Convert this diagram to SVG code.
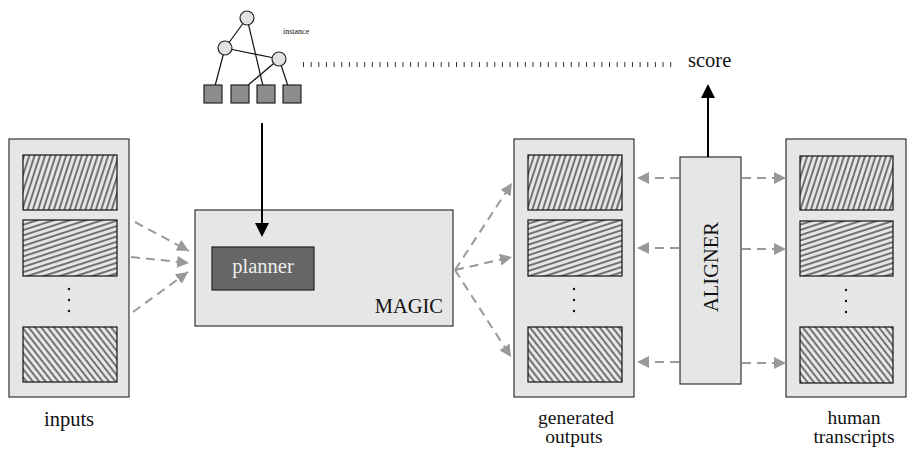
<svg xmlns="http://www.w3.org/2000/svg" width="907" height="452" viewBox="0 0 907 452">
<style>
text{font-family:"Liberation Serif","Times New Roman",serif;fill:#111;}
.lbl{font-size:20.5px;}
.lbl2{font-size:19.5px;}
.panel{fill:#e6e6e6;stroke:#333;stroke-width:1.2;}
.hbox{stroke:#111;stroke-width:1.2;}
.dash{stroke:#999;stroke-width:2;stroke-dasharray:9 6;fill:none;marker-end:url(#ga);}
.tl{stroke:#111;stroke-width:1.2;}
.node{fill:#e2e2e2;stroke:#222;stroke-width:1.2;}
.leaf{fill:#8c8c8c;stroke:#222;stroke-width:1.2;}
.dot{fill:#111;}
</style>
<defs>
<marker id="ga" markerUnits="userSpaceOnUse" markerWidth="12" markerHeight="12" refX="12" refY="6" orient="auto">
<path d="M0,0 L12,6 L0,12 z" fill="#999"/>
</marker>
<pattern id="h1" patternUnits="userSpaceOnUse" width="5" height="10" patternTransform="rotate(18)">
<line x1="1" y1="0" x2="1" y2="10" stroke="#000" stroke-width="1"/>
</pattern>
<pattern id="h2" patternUnits="userSpaceOnUse" width="10" height="5" patternTransform="rotate(-18)">
<line x1="0" y1="1" x2="10" y2="1" stroke="#000" stroke-width="1"/>
</pattern>
<pattern id="h3" patternUnits="userSpaceOnUse" width="5" height="10" patternTransform="rotate(-38)">
<line x1="1" y1="0" x2="1" y2="10" stroke="#000" stroke-width="1"/>
</pattern>
</defs>

<g id="tree">
<line class="tl" x1="247" y1="18" x2="225" y2="48"/>
<line class="tl" x1="247" y1="18" x2="263" y2="86"/>
<line class="tl" x1="225" y1="48" x2="279" y2="59"/>
<line class="tl" x1="225" y1="48" x2="215" y2="86"/>
<line class="tl" x1="279" y1="59" x2="247" y2="86"/>
<line class="tl" x1="279" y1="59" x2="288" y2="86"/>
<circle class="node" cx="247" cy="18" r="7"/>
<circle class="node" cx="225" cy="48" r="7"/>
<circle class="node" cx="279" cy="59" r="7"/>
<rect class="leaf" x="204" y="85" width="18" height="18"/>
<rect class="leaf" x="231" y="85" width="18" height="18"/>
<rect class="leaf" x="257" y="85" width="18" height="18"/>
<rect class="leaf" x="283" y="85" width="18" height="18"/>
<text x="283" y="34" font-size="8">instance</text>
</g>

<g id="score">
<line x1="303" y1="64.5" x2="672" y2="64.5" stroke="#333" stroke-width="5" stroke-dasharray="1 6.65"/>
<text class="lbl" x="688" y="67">score</text>
</g>

<g id="inputs">
<rect class="panel" x="9" y="139" width="120" height="258"/>
<rect class="hbox" x="23" y="155" width="94" height="55" fill="url(#h1)"/>
<rect class="hbox" x="23" y="220" width="94" height="56" fill="url(#h2)"/>
<circle class="dot" cx="69" cy="289" r="1.2"/>
<circle class="dot" cx="69" cy="300" r="1.2"/>
<circle class="dot" cx="69" cy="311" r="1.2"/>
<rect class="hbox" x="23" y="327" width="94" height="55" fill="url(#h3)"/>
<text class="lbl" x="69" y="426" text-anchor="middle">inputs</text>
</g>

<g id="magic">
<rect class="panel" x="195" y="210" width="258" height="116"/>
<rect x="212" y="247" width="102" height="43" fill="#666" stroke="#222" stroke-width="1.2"/>
<text class="lbl" x="263" y="273" text-anchor="middle" style="fill:#eee">planner</text>
<text class="lbl" x="443" y="313" text-anchor="end">MAGIC</text>
</g>

<g id="generated">
<rect class="panel" x="514" y="139" width="120" height="258"/>
<rect class="hbox" x="528" y="155" width="94" height="55" fill="url(#h1)"/>
<rect class="hbox" x="528" y="220" width="94" height="56" fill="url(#h2)"/>
<circle class="dot" cx="574" cy="289" r="1.2"/>
<circle class="dot" cx="574" cy="300" r="1.2"/>
<circle class="dot" cx="574" cy="311" r="1.2"/>
<rect class="hbox" x="528" y="327" width="94" height="55" fill="url(#h3)"/>
<text class="lbl2" x="576" y="424" text-anchor="middle">generated</text>
<text class="lbl2" x="574" y="443" text-anchor="middle">outputs</text>
</g>

<g id="aligner">
<rect class="panel" x="680" y="157" width="61" height="227"/>
<text class="lbl" transform="translate(718,267) rotate(-90)" text-anchor="middle">ALIGNER</text>
</g>

<g id="human">
<rect class="panel" x="786" y="139" width="120" height="258"/>
<rect class="hbox" x="800" y="156" width="93" height="54" fill="url(#h1)"/>
<rect class="hbox" x="800" y="221" width="93" height="55" fill="url(#h2)"/>
<circle class="dot" cx="846" cy="290" r="1.2"/>
<circle class="dot" cx="846" cy="301" r="1.2"/>
<circle class="dot" cx="846" cy="312" r="1.2"/>
<rect class="hbox" x="800" y="327" width="93" height="56" fill="url(#h3)"/>
<text class="lbl2" x="854" y="424" text-anchor="middle">human</text>
<text class="lbl2" x="854" y="443" text-anchor="middle">transcripts</text>
</g>

<g id="connectors">
<line x1="262" y1="123" x2="262" y2="224" stroke="#000" stroke-width="2"/>
<path d="M255,223 L269,223 L262,237 z" fill="#000"/>
<line x1="708" y1="157" x2="708" y2="97" stroke="#000" stroke-width="2"/>
<path d="M701,98 L715,98 L708,84 z" fill="#000"/>
<path class="dash" d="M135,222 L189,251"/>
<path class="dash" d="M131,257 L189,263"/>
<path class="dash" d="M133,312 L188,272"/>
<path class="dash" d="M455,270 L512,183"/>
<path class="dash" d="M455,270 L512,257"/>
<path class="dash" d="M455,270 L511,357"/>
<path class="dash" d="M679,178 L637,178"/>
<path class="dash" d="M679,248 L637,248"/>
<path class="dash" d="M679,362 L637,362"/>
<path class="dash" d="M742,178 L786,178"/>
<path class="dash" d="M742,249 L786,249"/>
<path class="dash" d="M742,363 L786,363"/>
</g>
</svg>
